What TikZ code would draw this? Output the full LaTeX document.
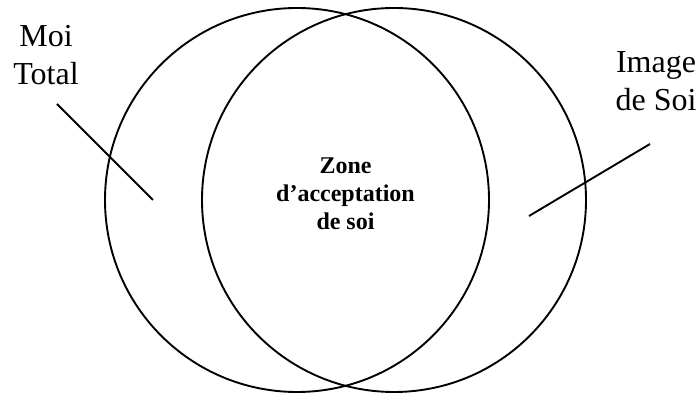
\documentclass[tikz,border=0pt]{standalone}
\usepackage{fontspec}
\setmainfont{Liberation Serif}
\begin{document}
\begin{tikzpicture}[x=1pt,y=1pt,
  ring/.style={draw, circle, line width=1.9pt, minimum size=384pt, inner sep=0pt},
  lead/.style={line width=1.9pt},
  lbl/.style={align=center, inner sep=0pt, font=\fontsize{32}{38}\selectfont},
  zone/.style={align=center, inner sep=0pt, font=\fontsize{24}{28}\selectfont\bfseries}]
\useasboundingbox (0,0) rectangle (698,393);
\node[ring] (moi) at (297,193) {};
\node[ring] (img) at (394,193) {};
\node[lbl, anchor=base] (lt) at (46,308) {Moi\\Total};
\node[lbl, anchor=base] (ls) at (656,282) {Image\\de Soi};
\node[zone, anchor=base] (z) at (345.5,163) {Zone\\d’acceptation\\de soi};
\coordinate (a1) at (57,289);
\coordinate (a2) at (153,193);
\coordinate (b1) at (650,249);
\coordinate (b2) at (529,177);
\draw[lead] (a1) -- (a2);
\draw[lead] (b1) -- (b2);
\end{tikzpicture}
\end{document}
